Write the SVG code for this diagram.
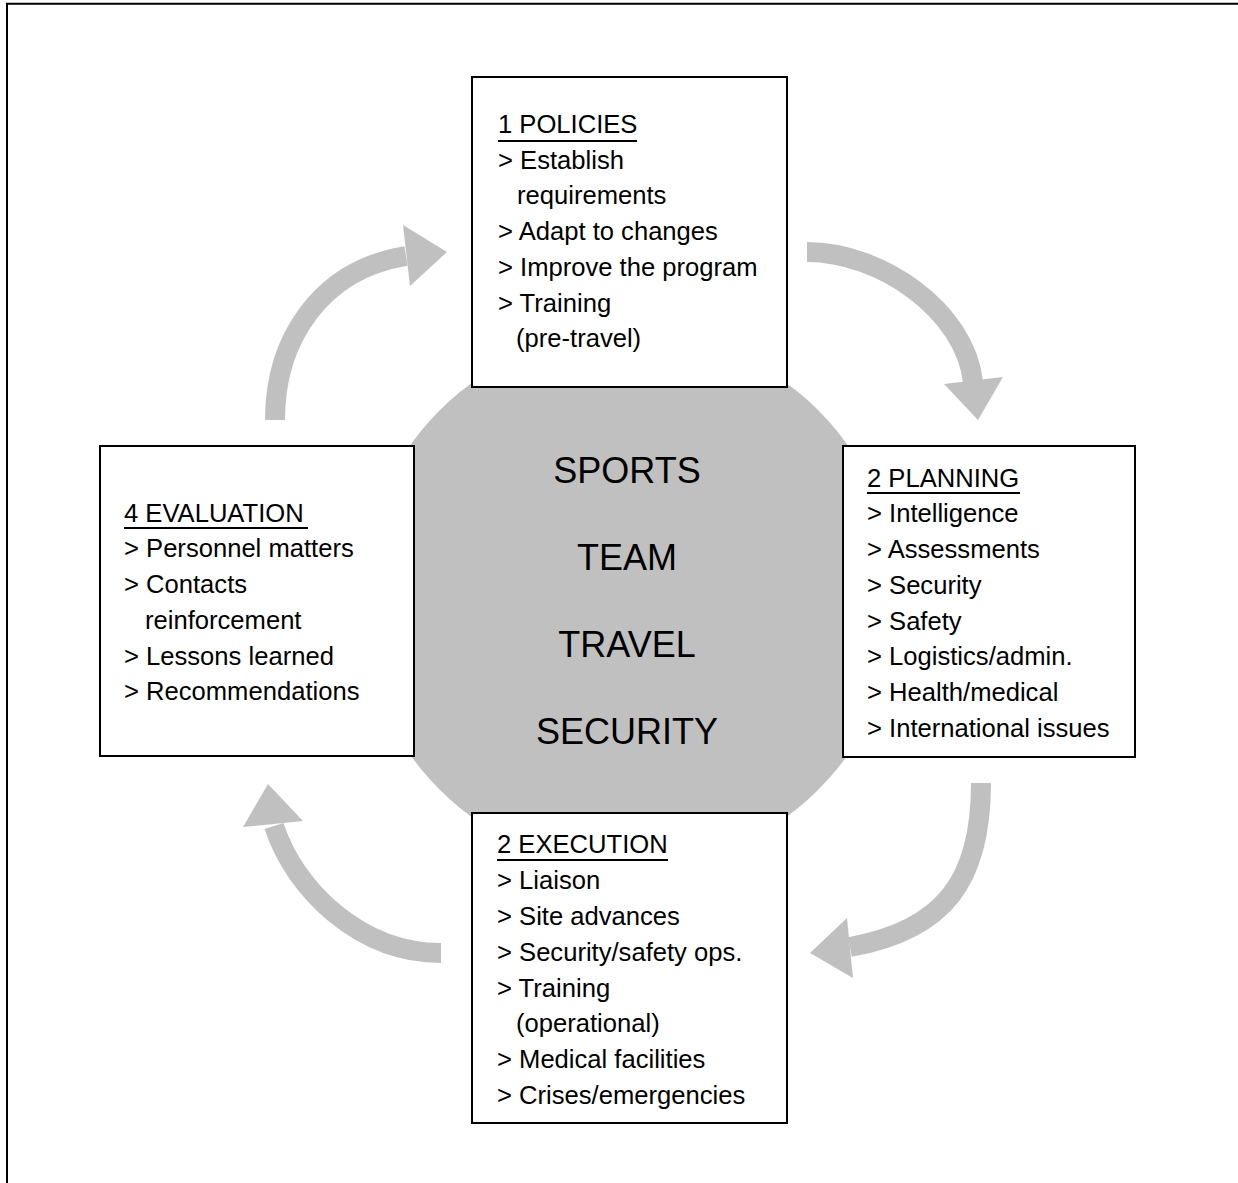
<svg xmlns="http://www.w3.org/2000/svg" width="1238" height="1183" viewBox="0 0 1238 1183">
<style>
.box{fill:#fff;stroke:#000;stroke-width:2}
.t{font-family:"Liberation Sans",Arial,sans-serif;font-size:25.6px;fill:#000}
.c{font-family:"Liberation Sans",Arial,sans-serif;font-size:36px;fill:#000;text-anchor:middle}
.ul{stroke:#000;stroke-width:2}
.shaft{fill:none;stroke:#c0c0c0;stroke-width:20}
.head{fill:#c0c0c0}
</style>
<rect width="1238" height="1183" fill="#fff"/>
<path d="M7,1183 V3.7 H1238" fill="none" stroke="#000" stroke-width="2"/>
<g id="connectors">
<path class="shaft" d="M275,420 C275,340 320,270 406,256"/>
<polygon class="head" points="403,225 447,252 410,286"/>
<path class="shaft" d="M807,252 C880,252 965,310 973,382"/>
<polygon class="head" points="944,384 1003,377 978,420"/>
<path class="shaft" d="M981,783 C981,880 945,930 850,947"/>
<polygon class="head" points="810,953 847,918 853,978"/>
<path class="shaft" d="M441,953 C360,953 295,890 274,826"/>
<polygon class="head" points="243,827 268,784 303,821"/>
</g>
<g id="center">
<circle cx="629" cy="600" r="268" fill="#c0c0c0"/>
<text class="c" x="627" y="483">SPORTS</text>
<text class="c" x="627" y="570">TEAM</text>
<text class="c" x="627" y="657">TRAVEL</text>
<text class="c" x="627" y="744">SECURITY</text>
</g>
<g id="policies">
<rect class="box" x="472" y="77" width="315" height="310"/>
<text class="t" x="498" y="133">1 POLICIES</text>
<line class="ul" x1="498" y1="141" x2="637" y2="141"/>
<text class="t" x="498" y="168.7">&gt; Establish</text>
<text class="t" x="517" y="204.4">requirements</text>
<text class="t" x="498" y="240.1">&gt; Adapt to changes</text>
<text class="t" x="498" y="275.8">&gt; Improve the program</text>
<text class="t" x="498" y="311.5">&gt; Training</text>
<text class="t" x="516" y="347.2">(pre-travel)</text>
</g>
<g id="planning">
<rect class="box" x="843" y="446" width="292" height="311"/>
<text class="t" x="867" y="486.7">2 PLANNING</text>
<line class="ul" x1="867" y1="493" x2="1020" y2="493"/>
<text class="t" x="867" y="522.4">&gt; Intelligence</text>
<text class="t" x="867" y="558.1">&gt; Assessments</text>
<text class="t" x="867" y="593.8">&gt; Security</text>
<text class="t" x="867" y="629.5">&gt; Safety</text>
<text class="t" x="867" y="665.2">&gt; Logistics/admin.</text>
<text class="t" x="867" y="700.9">&gt; Health/medical</text>
<text class="t" x="867" y="736.6">&gt; International issues</text>
</g>
<g id="execution">
<rect class="box" x="472" y="813" width="315" height="310"/>
<text class="t" x="497" y="853.3">2 EXECUTION</text>
<line class="ul" x1="497" y1="860" x2="668" y2="860"/>
<text class="t" x="497" y="889.1">&gt; Liaison</text>
<text class="t" x="497" y="924.9">&gt; Site advances</text>
<text class="t" x="497" y="960.7">&gt; Security/safety ops.</text>
<text class="t" x="497" y="996.5">&gt; Training</text>
<text class="t" x="516" y="1032.3">(operational)</text>
<text class="t" x="497" y="1068.1">&gt; Medical facilities</text>
<text class="t" x="497" y="1103.9">&gt; Crises/emergencies</text>
</g>
<g id="evaluation">
<rect class="box" x="100" y="446" width="314" height="310"/>
<text class="t" x="124" y="521.7">4 EVALUATION</text>
<line class="ul" x1="124" y1="528" x2="308" y2="528"/>
<text class="t" x="124" y="557.4">&gt; Personnel matters</text>
<text class="t" x="124" y="593.1">&gt; Contacts</text>
<text class="t" x="145" y="628.8">reinforcement</text>
<text class="t" x="124" y="664.5">&gt; Lessons learned</text>
<text class="t" x="124" y="700.2">&gt; Recommendations</text>
</g>
</svg>
